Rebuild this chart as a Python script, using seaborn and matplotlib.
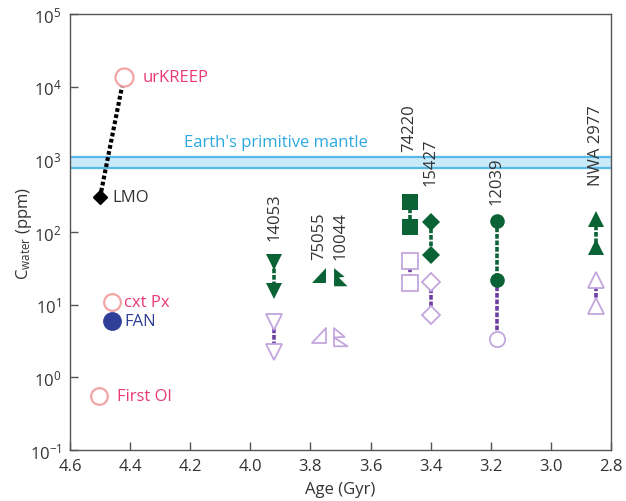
import numpy as np
import pandas as pd
import seaborn as sns
import matplotlib
matplotlib.use("Agg")
import matplotlib.pyplot as plt
from matplotlib.path import Path
from matplotlib.markers import MarkerStyle

# ---- data -------------------------------------------------------------
# Early lunar reservoirs
lmo_age, lmo_water = 4.50, 300
kreep_age, kreep_water = 4.42, 13500
cpx_age, cpx_water = 4.46, 11
fan_age, fan_water = 4.46, 6.0
ol_age, ol_water = 4.505, 0.56

# Earth's primitive mantle range (ppm)
mantle_range = [760, 1080]

# Mare basalt samples: age, measured (filled) and open-symbol values
samples = ["14053", "75055", "10044", "74220", "15427", "12039", "NWA 2977"]
sample_age = [3.92, 3.77, 3.70, 3.47, 3.40, 3.18, 2.85]
filled_vals = [[39, 15.5], [25], [24], [257, 118], [138, 49], [141, 22], [151, 63]]
open_vals = [[5.8, 2.2], [3.7], [3.6], [40, 20], [20.5, 7.3], [3.4], [22, 9.6]]
label_y = [78, 42, 42, 1300, 440, 240, 440]

# ---- style ------------------------------------------------------------
sns.set_theme(style="ticks")
plt.rcParams["font.family"] = ["Open Sans", "DejaVu Sans"]
plt.rcParams["mathtext.fontset"] = "custom"
plt.rcParams["mathtext.rm"] = "Open Sans"
plt.rcParams["mathtext.it"] = "Open Sans:italic"

GREEN = "#0b6335"
PURPLE_LINE = "#6d3fa3"
PURPLE_EDGE = "#c3a6de"
PINK_EDGE = "#f3a5a5"
PINK_TEXT = "#ea3a72"
BLUE_FAN = "#2f3e97"
BAND_FILL = "#c8eaf9"
BAND_EDGE = "#5ab8e8"
BAND_TEXT = "#2ea9df"
TEXT = "#333333"
SPINE = "#555555"
FS = 12

# custom marker shapes
right_tri = MarkerStyle(Path([(-0.6, -0.6), (0.6, -0.6), (0.6, 0.7), (-0.6, -0.6)],
                             [Path.MOVETO, Path.LINETO, Path.LINETO, Path.CLOSEPOLY]))
flag_verts = [(-0.55, 0.8), (0.35, 0.05), (-0.15, 0.0), (0.6, -0.75),
              (-0.55, -0.75), (-0.55, 0.8)]
flag = MarkerStyle(Path(flag_verts, [Path.MOVETO] + [Path.LINETO] * 4 + [Path.CLOSEPOLY]))
flag_open_verts = [(-0.55, 0.8), (0.35, 0.05), (-0.55, 0.0), (0.6, -0.75),
                   (-0.55, -0.75), (-0.55, 0.8)]
flag_open = MarkerStyle(Path(flag_open_verts, [Path.MOVETO] + [Path.LINETO] * 4 + [Path.CLOSEPOLY]))

filled_marker = ["v", right_tri, flag, "s", "D", "o", "^"]
open_marker = ["v", right_tri, flag_open, "s", "D", "o", "^"]
filled_size = [11, 12, 13.5, 11, 9.5, 10.5, 11]
open_size = [11, 12, 13.5, 11, 9.5, 11, 11]

fig = plt.figure(figsize=(6.26, 5.02), dpi=100)
ax = fig.add_axes([0.1118, 0.1016, 0.8642, 0.8685])

# primitive mantle band
ax.axhspan(mantle_range[0], mantle_range[1], color=BAND_FILL, lw=0, zorder=1)
for v in mantle_range:
    ax.axhline(v, color=BAND_EDGE, lw=1.6, zorder=1.5)
ax.text(3.915, 1750, "Earth's primitive mantle", color=BAND_TEXT, fontsize=FS,
        ha="center", va="center")

dash = (0, (1.3, 0.5))


def side_label(x, y, text, color, dx_px):
    ax.annotate(text, (x, y), xytext=(dx_px * 0.72, 0), textcoords="offset points",
                color=color, fontsize=FS, ha="left", va="center")


# LMO -> urKREEP evolution line
link = pd.DataFrame({"age": [lmo_age, 4.425], "water": [lmo_water, 11000]})
sns.lineplot(data=link, x="age", y="water", ax=ax, color="black", lw=3.0,
             linestyle=(0, (0.9, 0.6)), zorder=2)
ax.plot([lmo_age], [lmo_water], marker="D", ms=7, color="black", zorder=4)
side_label(lmo_age, lmo_water, "LMO", TEXT, 12)

for age, val, name, ms, dx in [(kreep_age, kreep_water, "urKREEP", 13, 19),
                               (cpx_age, cpx_water, "cxt Px", 12, 12),
                               (ol_age, ol_water, "First Ol", 12, 18)]:
    ax.plot([age], [val], marker="o", ms=ms, mfc="white", mec=PINK_EDGE,
            mew=1.6, zorder=4)
    side_label(age, val, name, PINK_TEXT, dx)
ax.plot([fan_age], [fan_water], marker="o", ms=12.5, color=BLUE_FAN, zorder=5)
side_label(fan_age, fan_water, "FAN", BLUE_FAN, 12)

# mare basalt samples
for i, name in enumerate(samples):
    age = sample_age[i]
    fv, ov = filled_vals[i], open_vals[i]
    if len(ov) > 1:
        d = pd.DataFrame({"age": [age] * len(ov), "water": ov})
        sns.lineplot(data=d, x="age", y="water", ax=ax, color=PURPLE_LINE,
                     lw=2.6, linestyle=dash, zorder=2, estimator=None, sort=False)
    if len(fv) > 1:
        d = pd.DataFrame({"age": [age] * len(fv), "water": fv})
        sns.lineplot(data=d, x="age", y="water", ax=ax, color=GREEN,
                     lw=2.6, linestyle=dash, zorder=2, estimator=None, sort=False)
    if name == "12039":
        d = pd.DataFrame({"age": [age, age], "water": [fv[-1], ov[0]]})
        sns.lineplot(data=d, x="age", y="water", ax=ax, color=PURPLE_LINE,
                     lw=2.6, linestyle=dash, zorder=2, estimator=None, sort=False)
    ax.plot([age] * len(ov), ov, ls="none", marker=open_marker[i], ms=open_size[i],
            mfc="white", mec=PURPLE_EDGE, mew=1.3, zorder=3)
    ax.plot([age] * len(fv), fv, ls="none", marker=filled_marker[i], ms=filled_size[i],
            color=GREEN, mew=0, zorder=4)
    ax.text(age, label_y[i], name, rotation=90, color=TEXT, fontsize=FS,
            ha="center", va="bottom")

# axes
ax.set_yscale("log")
ax.set_ylim(0.1, 1e5)
ax.set_xlim(4.6, 2.8)
ticks = np.arange(4.6, 2.79, -0.2)
ax.set_xticks(ticks)
ax.set_xticklabels([f"{t:.1f}" for t in ticks])
ax.set_yticks([10.0 ** k for k in range(-1, 6)])
ax.yaxis.set_minor_locator(matplotlib.ticker.NullLocator())
ax.tick_params(direction="in", length=6, width=1, colors=SPINE, labelcolor=TEXT,
               labelsize=FS, pad=6)
ax.tick_params(axis="x", pad=6)
for s in ax.spines.values():
    s.set_color(SPINE)
    s.set_linewidth(1)
ax.set_xlabel("Age (Gyr)", fontsize=FS, color=TEXT, labelpad=5)
ax.set_ylabel(r"C$_{\mathrm{water}}$ (ppm)", fontsize=FS, color=TEXT, labelpad=-3)

fig.savefig("out.png", dpi=100)
